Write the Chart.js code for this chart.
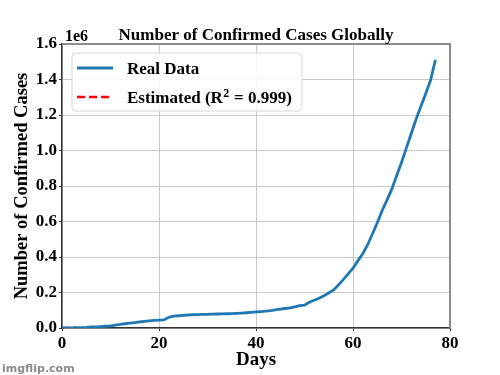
<!DOCTYPE html>
<html>
<head>
<meta charset="utf-8">
<script src="https://cdn.jsdelivr.net/npm/chart.js@4"></script>
<style>
  html, body { margin: 0; padding: 0; background: #fff; }
  #wrap { width: 500px; height: 375px; }
</style>
</head>
<body>
<div id="wrap"><canvas id="casesChart" width="500" height="375"></canvas></div>
<script>
// days since Jan 22
const days = Array.from({ length: 78 }, (_, i) => i);

const realCases = [
  // Jan 22-31
  555, 654, 941, 1434, 2118, 2927, 5578, 6166, 8234, 9927,
  // Feb
  12038, 16787, 19881, 23892, 27635, 30794, 34391, 37120, 40150, 42762,
  44802, 45221, 60368, 66885, 69030, 71224, 73258, 75136, 75639, 76197,
  76823, 78579, 78965, 79568, 80413, 81395, 82754, 84120, 86011,
  // Mar
  88369, 90306, 92840, 95120, 97886, 101801, 105847, 109821, 113590, 118620,
  125875, 128352, 145205, 156101, 167454, 181574, 197102, 214821, 242570, 272208,
  304507, 336953, 378231, 418041, 467653, 529591, 593291, 660706, 720117, 782365,
  857487,
  // Apr 1-8
  932605, 1013157, 1095917, 1176060, 1249754, 1321481, 1396476, 1511104
];

const estDays = [0, 1, 2, 3];
const estCases = [0, 300, 700, 1200];

const yTicks = [0, 0.2e6, 0.4e6, 0.6e6, 0.8e6, 1.0e6, 1.2e6, 1.4e6, 1.6e6];

const SERIF = '"Liberation Serif", "Times New Roman", serif';

// draws text, turning "²" into a real superscript 2
function drawLabel(c, text, x, y, size) {
  const parts = text.split('²');
  let cx = x;
  parts.forEach((p, i) => {
    c.font = 'bold ' + size + 'px ' + SERIF;
    c.fillText(p, cx, y);
    cx += c.measureText(p).width;
    if (i < parts.length - 1) {
      c.font = 'bold ' + Math.round(size * 0.7) + 'px ' + SERIF;
      c.fillText('2', cx + 0.5, y - size * 0.38);
      cx += c.measureText('2').width + 1;
    }
  });
}

const extras = {
  id: 'extras',
  afterDraw(chart) {
    const c = chart.ctx;
    const a = chart.chartArea;
    c.save();
    // top and right spines
    c.strokeStyle = '#8c8c8c';
    c.lineWidth = 2;
    c.beginPath();
    c.moveTo(a.left, a.top);
    c.lineTo(a.right, a.top);
    c.lineTo(a.right, a.bottom);
    c.stroke();

    c.fillStyle = '#000';
    c.textBaseline = 'alphabetic';
    c.font = 'bold 17px ' + SERIF;
    c.textAlign = 'center';
    c.fillText('Number of Confirmed Cases Globally', 256, 40);
    c.font = 'bold 16px ' + SERIF;
    c.textAlign = 'left';
    c.fillText('1e6', 65, 41);

    // legend inside the plot
    const lx = 72, ly = 53, lw = 230, lh = 58;
    c.beginPath();
    c.roundRect(lx, ly, lw, lh, 4);
    c.fillStyle = 'rgba(255,255,255,0.85)';
    c.fill();
    c.strokeStyle = '#d6d6d6';
    c.lineWidth = 1;
    c.stroke();
    chart.data.datasets.forEach((ds, i) => {
      const y = 68 + i * 29;
      c.beginPath();
      c.setLineDash(ds.borderDash || []);
      c.strokeStyle = ds.borderColor;
      c.lineWidth = ds.borderWidth;
      c.moveTo(77, y);
      c.lineTo(113, y);
      c.stroke();
      c.setLineDash([]);
      c.fillStyle = '#000';
      c.textBaseline = 'alphabetic';
      drawLabel(c, ds.label, 127, y + 6, 17);
    });

    // watermark
    c.font = 'bold 11px "DejaVu Sans", sans-serif';
    c.fillStyle = '#8a8a8a';
    c.textAlign = 'left';
    c.fillText('imgflip.com', 2, 372);
    c.restore();
  }
};

new Chart(document.getElementById('casesChart'), {
  type: 'line',
  data: {
    datasets: [
      {
        label: 'Real Data',
        data: days.map((d, i) => ({ x: d, y: realCases[i] })),
        borderColor: '#1f77b4',
        borderWidth: 2.8,
        pointRadius: 0,
        tension: 0,
        order: 1
      },
      {
        label: 'Estimated (R² = 0.999)',
        data: estDays.map((d, i) => ({ x: d, y: estCases[i] })),
        borderColor: '#ff0000',
        borderWidth: 2.5,
        borderDash: [8, 4],
        pointRadius: 0,
        tension: 0,
        order: 2
      }
    ]
  },
  options: {
    responsive: false,
    animation: false,
    layout: { padding: { top: 44, left: 0, right: 50, bottom: 0 } },
    plugins: {
      legend: { display: false },
      tooltip: { enabled: false },
      title: { display: false }
    },
    scales: {
      x: {
        type: 'linear',
        min: 0,
        max: 80,
        afterFit: s => { s.height = 47; },
        ticks: {
          stepSize: 20,
          padding: 2,
          color: '#000',
          font: { family: SERIF, size: 17, weight: 'bold' }
        },
        grid: { color: '#c8c8c8', lineWidth: 1, tickLength: 3, tickColor: '#333' },
        border: { color: '#333', width: 1.5 },
        title: {
          display: true,
          text: 'Days',
          color: '#000',
          padding: { top: 0, bottom: 4 },
          font: { family: SERIF, size: 19, weight: 'bold' }
        }
      },
      y: {
        min: 0,
        max: 1.6e6,
        afterFit: s => { s.width = 62; },
        afterBuildTicks: s => { s.ticks = yTicks.map(v => ({ value: v })); },
        ticks: {
          padding: 2,
          color: '#000',
          font: { family: SERIF, size: 17, weight: 'bold' },
          callback: v => (v / 1e6).toFixed(1)
        },
        grid: { color: '#c8c8c8', lineWidth: 1, tickLength: 3, tickColor: '#333' },
        border: { color: '#333', width: 1.5 },
        title: {
          display: true,
          text: 'Number of Confirmed Cases',
          color: '#000',
          padding: { top: 11, bottom: 0 },
          font: { family: SERIF, size: 18.5, weight: 'bold' }
        }
      }
    }
  },
  plugins: [extras]
});
</script>
</body>
</html>
